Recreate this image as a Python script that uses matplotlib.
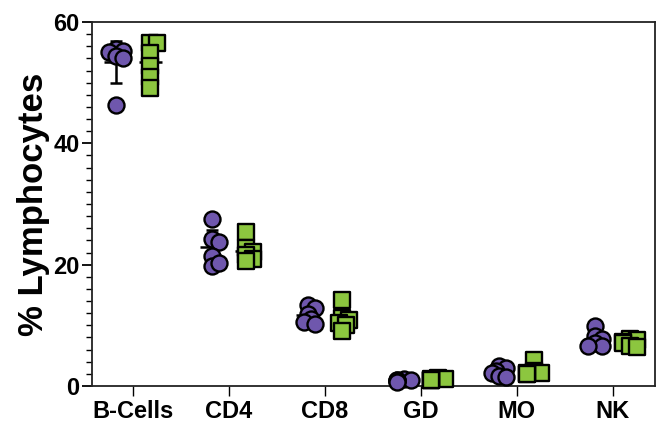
import numpy as np
import matplotlib
matplotlib.use('Agg')
import matplotlib.pyplot as plt
from matplotlib.ticker import MultipleLocator

plt.rcParams['font.family'] = ['Liberation Sans', 'DejaVu Sans']
plt.rcParams['font.weight'] = 'bold'

cells = ['B-Cells', 'CD4', 'CD8', 'GD', 'MO', 'NK']

# group 1 (purple circles)
grp1_b = [55.5, 55.2, 55.0, 54.4, 54.0, 46.3]
grp1_cd4 = [27.5, 24.3, 23.8, 21.5, 19.8, 20.2]
grp1_cd8 = [13.3, 12.8, 11.8, 11.0, 10.6, 10.2]
grp1_gd = [1.1, 1.0, 0.9, 0.9, 0.8, 0.7]
grp1_mo = [3.3, 2.9, 2.5, 2.2, 1.7, 1.5]
grp1_nk = [9.8, 8.3, 7.8, 7.0, 6.6, 6.5]

# group 2 (green squares)
grp2_b = [56.5, 56.5, 54.9, 52.7, 51.0, 49.1]
grp2_cd4 = [25.3, 22.8, 22.1, 21.6, 21.0, 20.6]
grp2_cd8 = [14.2, 11.2, 10.9, 10.3, 10.1, 9.0]
grp2_gd = [1.3, 1.2, 1.1, 1.0, 1.0, 0.9]
grp2_mo = [4.3, 2.4, 2.2, 2.1, 2.0, 1.9]
grp2_nk = [7.8, 7.6, 7.2, 7.0, 6.6, 6.4]

grp1 = [grp1_b, grp1_cd4, grp1_cd8, grp1_gd, grp1_mo, grp1_nk]
grp2 = [grp2_b, grp2_cd4, grp2_cd8, grp2_gd, grp2_mo, grp2_nk]

purple = '#6F57AD'
green = '#8CC63F'

fig = plt.figure(figsize=(6.62, 4.25), dpi=100)
ax = fig.add_axes([0.139, 0.092, 0.850, 0.856])
ax.set_xlim(-0.43, 5.44)
ax.set_ylim(0, 60)

pos = np.arange(len(cells))
msize = 16  # marker diameter in px


def swarm(xc, vals):
    # spread overlapping points sideways a little, in pixel space
    pts = ax.transData.transform(np.column_stack([np.full(len(vals), xc), vals]))
    placed = []
    xs = []
    for px, py in pts:
        for k in [0, 1, -1, 2, -2]:
            cx = px + k * 3.5
            if all(np.hypot(cx - qx, py - qy) >= msize * 0.35 for qx, qy in placed):
                break
        placed.append((cx, py))
        xs.append(ax.transData.inverted().transform((cx, py))[0])
    return np.array(xs)


for i in range(len(cells)):
    for vals, off, col, mk in [(grp1[i], -0.18, purple, 'o'), (grp2[i], 0.18, green, 's')]:
        v = np.array(vals)
        xc = pos[i] + off
        m, sd = v.mean(), v.std(ddof=1)
        ax.errorbar(xc, m, yerr=sd, fmt='none', ecolor='black', elinewidth=1.8,
                    capsize=4.5, capthick=1.8, zorder=3, clip_on=False)
        ax.hlines(m, xc - 0.12, xc + 0.12, color='black', lw=1.8, zorder=3)
        xs = swarm(xc, v)
        ax.scatter(xs, v, s=(msize * 0.72) ** 2, marker=mk, c=col,
                   edgecolors='black', linewidths=1.7, zorder=4, clip_on=False)

ax.set_xticks(pos)
ax.set_xticklabels(cells, fontsize=17, fontweight='bold')
ax.yaxis.set_major_locator(MultipleLocator(20))
ax.yaxis.set_minor_locator(MultipleLocator(2))
ax.tick_params(axis='y', which='major', length=7, width=1.3, labelsize=17, pad=2)
ax.tick_params(axis='y', which='minor', length=4, width=1.0)
ax.tick_params(axis='x', length=7, width=1.0, pad=3)
for lbl in ax.get_yticklabels():
    lbl.set_fontweight('bold')
ax.set_ylabel('% Lymphocytes', fontsize=25, fontweight='bold', labelpad=2)

for sp in ax.spines.values():
    sp.set_linewidth(1.3)
    sp.set_color('#222222')

fig.savefig('out.png', dpi=100)
